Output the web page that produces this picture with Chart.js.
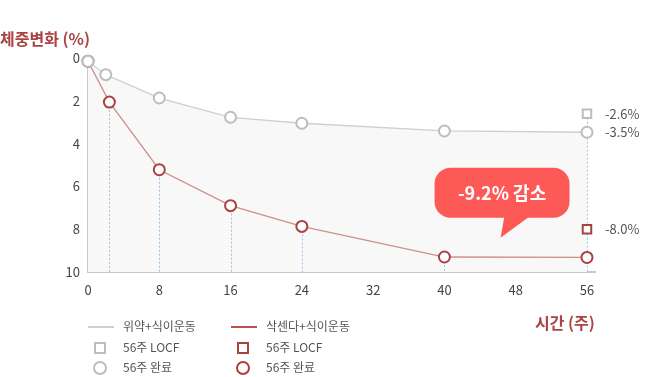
<!DOCTYPE html>
<html>
<head>
<meta charset="utf-8">
<script src="https://cdn.jsdelivr.net/npm/chart.js@4"></script>
<style>
body { margin:0; background:#fff; font-family:"Noto Sans CJK KR","Noto Sans",sans-serif; }
#wrap { position:relative; width:646px; height:377px; overflow:hidden; }
#chart { position:absolute; left:0; top:0; }
.axisTitle { position:absolute; color:#a94442; font-weight:bold; font-size:16px; white-space:nowrap; }
.legendItem { position:absolute; font-size:12px; color:#555; white-space:nowrap; line-height:16px; }
.legendMarker { position:absolute; box-sizing:border-box; }
</style>
</head>
<body>
<div id="wrap">
	<canvas id="chart" width="646" height="377"></canvas>
	<div class="axisTitle" style="left:0px; top:26px;">체중변화 (%)</div>
	<div class="axisTitle" style="left:535px; top:310px;">시간 (주)</div>
	<div id="legend"></div>
</div>
<script>
// weeks / weight change (shown as positive numbers, axis runs downward)
const weeksPlacebo = [0, 2, 8, 16, 24, 40, 56];
const changePlacebo = [0.15, 0.78, 1.87, 2.77, 3.05, 3.41, 3.47];
const weeksSaxenda = [0, 2.4, 8, 16, 24, 40, 56];
const changeSaxenda = [0.15, 2.06, 5.22, 6.9, 7.87, 9.3, 9.32];
const locfWeek = 56;
const locfPlacebo = 2.6;
const locfSaxenda = 8.0;
const xTicks = [0, 8, 16, 24, 32, 40, 48, 56];
const yTicks = [0, 2, 4, 6, 8, 10];
const seriesNames = ["위약+식이운동", "삭센다+식이운동"];
const markerNames = ["56주 LOCF", "56주 완료"];
const calloutText = "-9.2% 감소";
const calloutWeek = 46.3;
const calloutChange = 8.4;

const grey = '#bdbdbd';
const greyLine = '#cfcfcf';
const red = '#a8423f';
const redLine = '#cd8f8c';

function toPoints(xs, ys){
	return xs.map((x, i) => ({x: x, y: ys[i]}));
}

// legend, two columns
let html = "";
const cols = [{x:88, line:greyLine, mark:grey, name:seriesNames[0]}, {x:231, line:'#c0504d', mark:red, name:seriesNames[1]}];
for (const c of cols){
	html += "<div class='legendMarker' style='left:"+c.x+"px;top:326px;width:26px;height:2px;background:"+c.line+"'></div>";
	html += "<div class='legendItem' style='left:"+(c.x+35)+"px;top:318px'>"+c.name+"</div>";
	html += "<div class='legendMarker' style='left:"+(c.x+6)+"px;top:342px;width:12px;height:12px;border:2px solid "+c.mark+"'></div>";
	html += "<div class='legendItem' style='left:"+(c.x+35)+"px;top:339px'>"+markerNames[0]+"</div>";
	html += "<div class='legendMarker' style='left:"+(c.x+5)+"px;top:361px;width:14px;height:14px;border-radius:50%;border:2px solid "+c.mark+"'></div>";
	html += "<div class='legendItem' style='left:"+(c.x+35)+"px;top:359px'>"+markerNames[1]+"</div>";
}
document.getElementById("legend").innerHTML = html;

const extras = {
	id: 'extras',
	beforeDatasetsDraw(chart){
		const {ctx, chartArea, scales:{x, y}} = chart;
		ctx.save();
		ctx.strokeStyle = '#9fc3e6';
		ctx.lineWidth = 1;
		ctx.setLineDash([2, 2]);
		weeksSaxenda.forEach((w, i) => {
			if (i == 0) return;
			const px = Math.round(x.getPixelForValue(w)) + 0.5;
			let top = y.getPixelForValue(changeSaxenda[i]);
			if (w == locfWeek) top = y.getPixelForValue(locfPlacebo);
			ctx.beginPath();
			ctx.moveTo(px, top);
			ctx.lineTo(px, chartArea.bottom);
			ctx.stroke();
		});
		ctx.restore();
	},
	afterDatasetsDraw(chart){
		const {ctx, scales:{x, y}} = chart;
		ctx.save();
		// end labels
		ctx.font = '13px "Noto Sans CJK KR"';
		ctx.fillStyle = '#555';
		ctx.textBaseline = 'middle';
		const lx = x.getPixelForValue(locfWeek) + 18;
		ctx.fillText("-" + locfPlacebo.toFixed(1) + "%", lx, y.getPixelForValue(locfPlacebo));
		ctx.fillText("-" + changePlacebo[changePlacebo.length-1].toFixed(1) + "%", lx, y.getPixelForValue(changePlacebo[changePlacebo.length-1]));
		ctx.fillText("-" + locfSaxenda.toFixed(1) + "%", lx, y.getPixelForValue(locfSaxenda));

		// callout bubble
		const tx = x.getPixelForValue(calloutWeek);
		const ty = y.getPixelForValue(calloutChange);
		const left = tx - 66, right = tx + 69, top = ty - 70, bottom = ty - 20;
		ctx.fillStyle = '#fd5a57';
		ctx.beginPath();
		ctx.roundRect(left, top, right - left, bottom - top, 16);
		ctx.fill();
		ctx.beginPath();
		ctx.moveTo(tx + 4, bottom - 2);
		ctx.lineTo(tx + 30, bottom - 2);
		ctx.lineTo(tx, ty);
		ctx.closePath();
		ctx.fill();
		ctx.fillStyle = '#fff';
		ctx.font = 'bold 18px "Noto Sans CJK KR"';
		ctx.textAlign = 'center';
		ctx.fillText(calloutText, (left + right) / 2, (top + bottom) / 2);
		ctx.restore();
	}
};

new Chart(document.getElementById("chart"), {
	type: 'scatter',
	data: {
		datasets: [
			{label: seriesNames[0], data: toPoints(weeksPlacebo, changePlacebo), showLine: true, borderColor: greyLine, borderWidth: 1.3,
				pointBorderColor: grey, pointBackgroundColor: '#fff', pointBorderWidth: 2, pointRadius: 5.5, clip: false,
				fill: 'start', backgroundColor: '#f8f8f8'},
			{label: seriesNames[1], data: toPoints(weeksSaxenda, changeSaxenda), showLine: true, borderColor: redLine, borderWidth: 1.3,
				pointBorderColor: red, pointBackgroundColor: '#fff', pointBorderWidth: 2, pointRadius: 5.5, clip: false},
			{label: markerNames[0], data: [{x: locfWeek, y: locfPlacebo}], pointStyle: 'rect', pointRadius: 6,
				pointBorderColor: grey, pointBackgroundColor: '#fff', pointBorderWidth: 2, clip: false},
			{label: markerNames[0], data: [{x: locfWeek, y: locfSaxenda}], pointStyle: 'rect', pointRadius: 6,
				pointBorderColor: red, pointBackgroundColor: '#fff', pointBorderWidth: 2, clip: false}
		]
	},
	options: {
		responsive: false,
		animation: false,
		layout: {padding: {left: 58, right: 51, top: 58, bottom: 75}},
		plugins: {
			legend: {display: false},
			tooltip: {enabled: false},
			filler: {drawTime: 'beforeDatasetsDraw'}
		},
		scales: {
			x: {
				type: 'linear', min: 0, max: 56.9,
				afterBuildTicks: s => { s.ticks = xTicks.map(v => ({value: v})); },
				afterFit: s => { s.height = 30; },
				grid: {display: false, drawTicks: false},
				border: {display: true, color: '#c8c8c8', width: 2},
				ticks: {padding: 10, color: '#444', font: {size: 13, family: 'Noto Sans CJK KR'}, maxRotation: 0}
			},
			y: {
				type: 'linear', min: 0, max: 10, reverse: true,
				afterBuildTicks: s => { s.ticks = yTicks.map(v => ({value: v})); },
				afterFit: s => { s.width = 30; },
				grid: {display: false, drawTicks: false},
				border: {display: true, color: '#c8c8c8', width: 1.5},
				ticks: {padding: 8, color: '#444', font: {size: 13, family: 'Noto Sans CJK KR'}}
			}
		}
	},
	plugins: [extras]
});
</script>
</body>
</html>
